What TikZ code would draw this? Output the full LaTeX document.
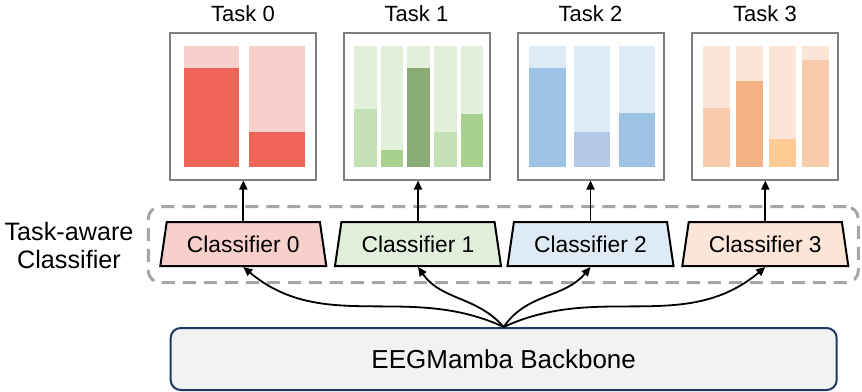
\documentclass[tikz,border=0pt]{standalone}
\usepackage{fontspec}
\setmainfont{Liberation Sans}
\usetikzlibrary{shapes.geometric,arrows.meta}

\definecolor{panelgray}{HTML}{7F7F7F}
\definecolor{grpgray}{HTML}{A6A6A6}
\definecolor{navy}{HTML}{1F3864}
\definecolor{bbfill}{HTML}{F2F2F2}
% red
\definecolor{redlt}{HTML}{F8D0CB}
\definecolor{reddk}{HTML}{EE6557}
% green
\definecolor{grnlt}{HTML}{E2EFDA}
\definecolor{grnmd}{HTML}{C5E0B4}
\definecolor{grnst}{HTML}{A9D18E}
\definecolor{grndk}{HTML}{8BAB76}
% blue
\definecolor{blult}{HTML}{DEEBF7}
\definecolor{blumd}{HTML}{9DC3E6}
\definecolor{blupu}{HTML}{B4C7E7}
% orange
\definecolor{orglt}{HTML}{FBE5D6}
\definecolor{orgmd}{HTML}{F8CBAD}
\definecolor{orgdk}{HTML}{F4B183}
\definecolor{orgyl}{HTML}{FFCA94}

\begin{document}
\begin{tikzpicture}[x=0.5pt,y=-0.5pt,
    panel/.style={draw=panelgray,line width=1pt,minimum width=73pt,minimum height=73.5pt,inner sep=0pt},
    head/.style={font=\fontsize{11}{13}\selectfont,anchor=base},
    clf/.style={trapezium,trapezium angle=69,trapezium stretches body,draw,line width=1pt,
      minimum width=83pt,minimum height=22pt,inner sep=0pt,font=\fontsize{11.4}{13}\selectfont},
    grp/.style={draw=grpgray,line width=1.5pt,dash pattern=on 6.5pt off 4pt,rounded corners=6pt,
      minimum width=355pt,minimum height=38pt,inner sep=0pt},
    link/.style={-{Triangle[length=4.5pt,width=4pt]},line width=0.9pt}]
  \useasboundingbox (0,0) rectangle (862,391);

  % task panels
  \draw
    (243,106) node[panel] (b0){}
    (416.5,106) node[panel] (b1){}
    (590.5,106) node[panel] (b2){}
    (765,106) node[panel] (b3){};
  \draw
    (243,21) node[head] (t0){Task 0}
    (416.5,21) node[head] (t1){Task 1}
    (590.5,21) node[head] (t2){Task 2}
    (765,21) node[head] (t3){Task 3};

  % bars, task 0
  \fill[redlt] (184,46) rectangle (239,167);
  \fill[reddk] (184,68) rectangle (239,167);
  \fill[redlt] (249,46) rectangle (305,167);
  \fill[reddk] (249,132) rectangle (305,167);
  % bars, task 1
  \fill[grnlt] (354,46) rectangle (377,167);
  \fill[grnmd] (354,109) rectangle (377,167);
  \fill[grnlt] (381,46) rectangle (403,167);
  \fill[grnst] (381,150) rectangle (403,167);
  \fill[grnlt] (407,46) rectangle (430,167);
  \fill[grndk] (407,68) rectangle (430,167);
  \fill[grnlt] (434,46) rectangle (457,167);
  \fill[grnmd] (434,132) rectangle (457,167);
  \fill[grnlt] (461,46) rectangle (483,167);
  \fill[grnst] (461,114) rectangle (483,167);
  % bars, task 2
  \fill[blult] (529,46) rectangle (566,167);
  \fill[blumd] (529,68) rectangle (566,167);
  \fill[blult] (574,46) rectangle (610,167);
  \fill[blupu] (574,132) rectangle (610,167);
  \fill[blult] (619,46) rectangle (655,167);
  \fill[blumd] (619,113) rectangle (655,167);
  % bars, task 3
  \fill[orglt] (703,46) rectangle (730,167);
  \fill[orgmd] (703,108) rectangle (730,167);
  \fill[orglt] (736,46) rectangle (763,167);
  \fill[orgdk] (736,81) rectangle (763,167);
  \fill[orglt] (769,46) rectangle (796,167);
  \fill[orgyl] (769,139) rectangle (796,167);
  \fill[orglt] (802,46) rectangle (829,167);
  \fill[orgmd] (802,60) rectangle (829,167);

  % classifier group
  \node[grp] (grp) at (503.3,244.7) {};
  \node[align=center,font=\fontsize{12.6}{14}\selectfont] (lbl) at (69,245) {Task-aware\\Classifier};
  \draw
    (243.3,244) node[clf,fill=redlt] (c0){Classifier 0}
    (418,244) node[clf,fill=grnlt] (c1){Classifier 1}
    (590.5,244) node[clf,fill=blult] (c2){Classifier 2}
    (765.3,244) node[clf,fill=orglt] (c3){Classifier 3};

  % backbone
  \node[draw=navy,fill=bbfill,line width=1pt,rounded corners=5pt,minimum width=333pt,minimum height=31pt,
    font=\fontsize{13}{15}\selectfont] (bb) at (503.7,359) {EEGMamba Backbone};

  \begin{scope}[link]
    \draw (c0.north) -- (c0.north |- b0.south);
    \draw (c1.north) -- (c1.north |- b1.south);
    \draw (c2.north) -- (c2.north |- b2.south);
    \draw (c3.north) -- (c3.north |- b3.south);
    \draw (bb.north) to[out=155,in=-40] (c0.south);
    \draw (bb.north) to[out=131,in=-55] (c1.south);
    \draw (bb.north) to[out=56,in=-130] (c2.south);
    \draw (bb.north) to[out=25,in=-140] (c3.south);
  \end{scope}
\end{tikzpicture}
\end{document}
